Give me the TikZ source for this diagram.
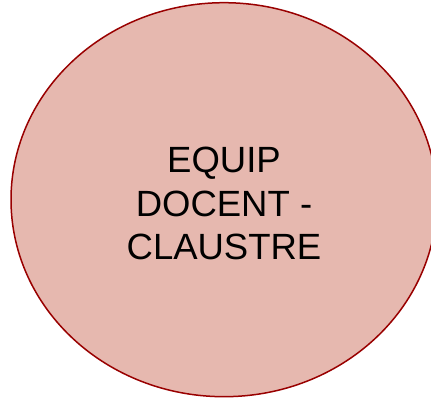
\documentclass[tikz,border=0pt]{standalone}
\usepackage{fontspec}
\setmainfont{Liberation Sans}
\usetikzlibrary{shapes.geometric}
\definecolor{fillpink}{HTML}{E6B8AF}
\definecolor{edgered}{HTML}{990000}
\tikzset{
  bubble/.style={ellipse, draw=edgered, fill=fillpink, line width=1.5pt, inner sep=0pt,
    minimum width=426pt, minimum height=394pt},
  label text/.style={align=center, inner sep=0pt,
    font=\fontsize{36.5pt}{43.5pt}\selectfont}
}
\begin{document}
\begin{tikzpicture}[x=1pt,y=1pt]
\useasboundingbox (0,0) rectangle (431,399);
\node[bubble] (claustre) at (224,199.3) {};
\node[label text, anchor=base] (txt) at (224,139) {EQUIP\\DOCENT -\\CLAUSTRE};
\end{tikzpicture}
\end{document}
